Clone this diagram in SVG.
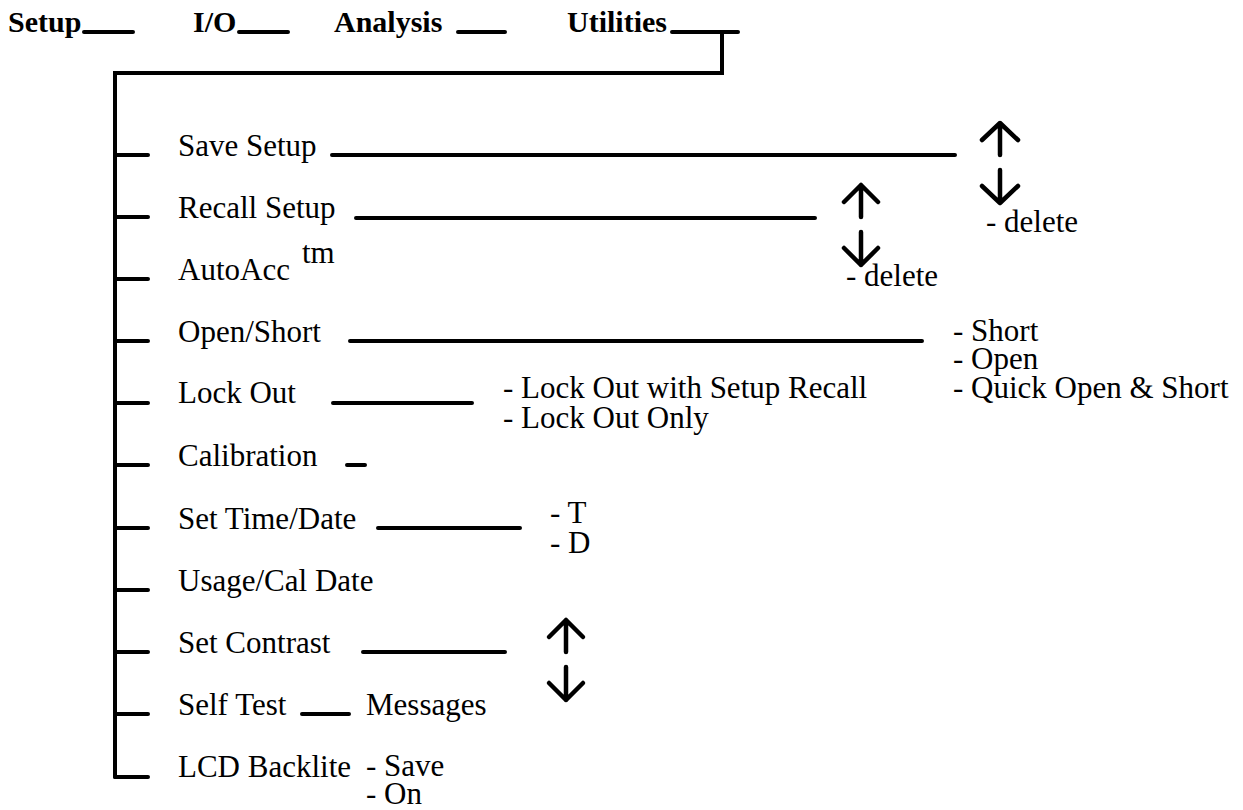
<svg xmlns="http://www.w3.org/2000/svg" width="1243" height="810" viewBox="0 0 1243 810">
<style>
.t{font-family:"Liberation Serif","Times New Roman",serif;font-size:31px;fill:#000}
.h{font-family:"Liberation Serif","Times New Roman",serif;font-size:30px;font-weight:bold;fill:#000}
.l{stroke:#000;stroke-width:4;stroke-linecap:round;fill:none}
.a{stroke:#000;stroke-width:4.5;stroke-linecap:round;stroke-linejoin:round;fill:none}
</style>
<rect width="1243" height="810" fill="#fff"/>
<g id="menu">
<text class="h" x="8" y="32">Setup</text>
<text class="h" x="193" y="32">I/O</text>
<text class="h" x="334" y="32">Analysis</text>
<text class="h" x="567" y="32">Utilities</text>
</g>
<g id="connectors">
<path class="l" d="M84 32H133M239 32H288M458 32H505M672 32H738"/>
<path class="l" d="M722 32V73H115V777"/>
<path class="l" d="M115 155H148M115 217H148M115 279H148M115 341H148M115 403H148M115 465H148M115 528H148M115 590H148M115 652H148M115 714H148M115 777H148"/>
<path class="l" d="M332 155H955M356 218H815M350 341H922M333 403H472M347 465H365M378 528H520M363 652H505M302 714H349"/>
</g>
<g id="arrows">
<path class="a" d="M1000 155V123M982 140L1000 123L1018 140M1000 170V203M982 186L1000 203L1018 186"/>
<path class="a" d="M861 217V185M844 202L861 185L878 202M861 232V265M844 248L861 265L878 248"/>
<path class="a" d="M566 652V620M549 637L566 620L583 637M566 667V700M549 683L566 700L583 683"/>
</g>
<g id="save-setup"><text class="t" x="178" y="156">Save Setup</text><text class="t" x="986" y="232">- delete</text></g>
<g id="recall-setup"><text class="t" x="178" y="218">Recall Setup</text><text class="t" x="846" y="286">- delete</text></g>
<g id="autoacc"><text class="t" x="178" y="280">AutoAcc</text><text class="t" x="302" y="263">tm</text></g>
<g id="open-short"><text class="t" x="178" y="342">Open/Short</text>
<text class="t" x="953" y="341">- Short</text><text class="t" x="953" y="369">- Open</text><text class="t" x="953" y="398">- Quick Open &amp; Short</text></g>
<g id="lock-out"><text class="t" x="178" y="403">Lock Out</text>
<text class="t" x="503" y="398">- Lock Out with Setup Recall</text><text class="t" x="503" y="428">- Lock Out Only</text></g>
<g id="calibration"><text class="t" x="178" y="466">Calibration</text></g>
<g id="time-date"><text class="t" x="178" y="529">Set Time/Date</text><text class="t" x="550" y="523">- T</text><text class="t" x="550" y="553">- D</text></g>
<g id="usage"><text class="t" x="178" y="591">Usage/Cal Date</text></g>
<g id="contrast"><text class="t" x="178" y="653">Set Contrast</text></g>
<g id="self-test"><text class="t" x="178" y="715">Self Test</text><text class="t" x="366" y="715">Messages</text></g>
<g id="lcd"><text class="t" x="178" y="777">LCD Backlite</text><text class="t" x="366" y="776">- Save</text><text class="t" x="366" y="804">- On</text></g>
</svg>
